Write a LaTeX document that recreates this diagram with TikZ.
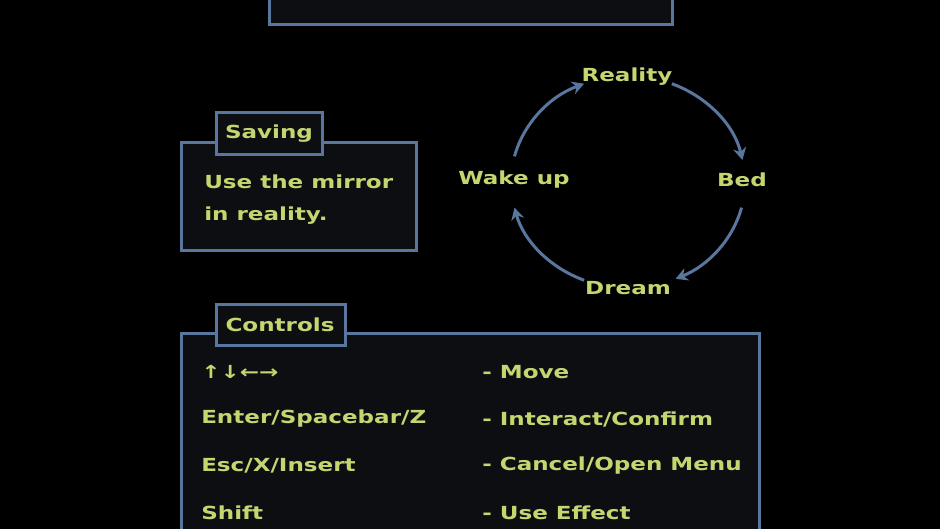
\documentclass[tikz,border=0pt]{standalone}
\usepackage{fontspec}
\setmainfont{DejaVu Sans}
\usetikzlibrary{arrows.meta}
\definecolor{txt}{RGB}{196,214,112}
\definecolor{bord}{RGB}{88,118,158}
\definecolor{boxbg}{RGB}{12,14,17}
\begin{document}
\begin{tikzpicture}[x=1pt,y=-1pt,
  panel/.style={draw=bord,line width=3pt,fill=boxbg},
  lbl/.style={text=txt,font=\fontsize{18}{20}\selectfont\bfseries,inner sep=0pt,xscale=1.28,transform shape},
  row/.style={lbl,anchor=west},
  cyc/.style={draw=bord,line width=3pt,-{Stealth[length=12pt,width=13pt]}}]
\fill[black] (0,0) rectangle (940,529);
\clip (0,0) rectangle (940,529);
% top box
\draw[panel] (269,-20) rectangle (672,25);
% saving
\draw[panel] (181,143) rectangle (416,251);
\draw[panel] (216,113) rectangle (322,155);
\node[lbl] (sav) at (269,134) {Saving};
\node[row] (s1) at (204,182) {Use the mirror};
\node[row] (s2) at (204,216) {in reality.};
% controls
\draw[panel] (181,334) rectangle (759,560);
\draw[panel] (216,305) rectangle (345,346);
\node[lbl] (con) at (280,325) {Controls};
\node[row] (c1) at (201,372) {↑↓←→};
\node[row] (c2) at (201,419) {Enter/Spacebar/Z};
\node[row] (c3) at (201,466) {Esc/X/Insert};
\node[row] (c4) at (201,513) {Shift};
\node[row] (d1) at (482,372) {- Move};
\node[row] (d2) at (482,419) {- Interact/Confirm};
\node[row] (d3) at (482,466) {- Cancel/Open Menu};
\node[row] (d4) at (482,513) {- Use Effect};
% cycle
\node[lbl] (r) at (627,77) {Reality};
\node[lbl] (b) at (742,180) {Bed};
\node[lbl] (d) at (628,288) {Dream};
\node[lbl] (w) at (514,180) {Wake up};
\coordinate (ctr) at (628,182);
\draw[cyc] (ctr) ++(-68:117 and 106) arc[start angle=-68,end angle=-12,x radius=117,y radius=106];
\draw[cyc] (ctr) ++(14:117 and 106) arc[start angle=14,end angle=66,x radius=117,y radius=106];
\draw[cyc] (ctr) ++(112:117 and 106) arc[start angle=112,end angle=166,x radius=117,y radius=106];
\draw[cyc] (ctr) ++(194:117 and 106) arc[start angle=194,end angle=248,x radius=117,y radius=106];
\end{tikzpicture}
\end{document}
